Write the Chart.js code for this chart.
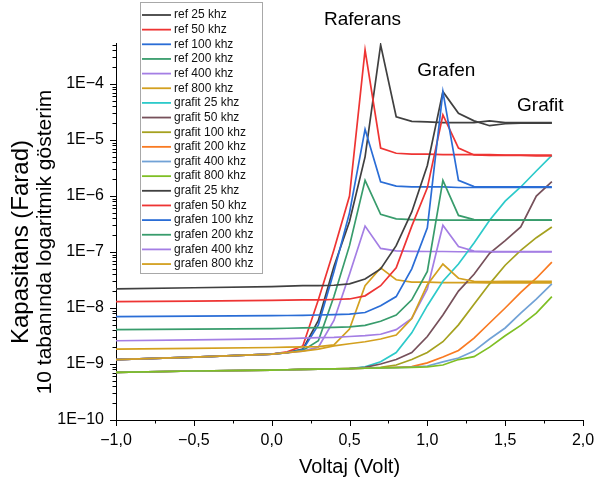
<!DOCTYPE html>
<html><head><meta charset="utf-8">
<script src="https://cdn.jsdelivr.net/npm/chart.js@4.4.1/dist/chart.umd.min.js"></script>
<style>html,body{margin:0;padding:0;background:#fff;}#wrap{width:596px;height:485px;}</style>
</head><body><div id="wrap"><canvas id="c" width="596" height="485"></canvas></div>
<script>
// ---------- DATA ----------
const voltages = [-1.0, -0.5, 0.0, 0.1, 0.2, 0.3, 0.4, 0.5, 0.6, 0.7, 0.8, 0.9, 1.0, 1.1, 1.2, 1.3, 1.4, 1.5, 1.6, 1.7, 1.8];

const ref25  = [1.2e-9, 1.33e-9, 1.5e-9, 1.6e-9, 1.85e-9, 6e-9, 5.5e-8, 3.5e-7, 5e-6, 5.0e-4, 2.6e-5, 2.15e-5, 2.1e-5, 2.05e-5, 2.05e-5, 2.05e-5, 2.2e-5, 2.05e-5, 2.05e-5, 2.05e-5, 2.05e-5];
const ref50  = [1.2e-9, 1.33e-9, 1.5e-9, 1.65e-9, 2.1e-9, 1.4e-8, 1.1e-7, 1.0e-6, 4.05e-4, 7.2e-6, 5.8e-6, 5.6e-6, 5.6e-6, 5.5e-6, 5.5e-6, 5.5e-6, 5.5e-6, 5.4e-6, 5.4e-6, 5.4e-6, 5.4e-6];
const ref100 = [1.2e-9, 1.33e-9, 1.5e-9, 1.6e-9, 1.8e-9, 5e-9, 4.5e-8, 5e-7, 1.55e-5, 1.8e-6, 1.5e-6, 1.45e-6, 1.45e-6, 1.45e-6, 1.42e-6, 1.42e-6, 1.42e-6, 1.42e-6, 1.42e-6, 1.42e-6, 1.42e-6];
const ref200 = [1.2e-9, 1.33e-9, 1.5e-9, 1.6e-9, 1.75e-9, 2.6e-9, 1.6e-8, 1.3e-7, 1.9e-6, 4.7e-7, 3.9e-7, 3.8e-7, 3.75e-7, 3.7e-7, 3.7e-7, 3.7e-7, 3.7e-7, 3.7e-7, 3.7e-7, 3.7e-7, 3.7e-7];
const ref400 = [1.2e-9, 1.33e-9, 1.5e-9, 1.6e-9, 1.7e-9, 2.0e-9, 6e-9, 4e-8, 2.9e-7, 1.16e-7, 1.05e-7, 1.03e-7, 1.02e-7, 1.02e-7, 1.01e-7, 1.01e-7, 1.0e-7, 1.0e-7, 1.0e-7, 1.0e-7, 1.0e-7];
const ref800 = [1.85e-9, 1.9e-9, 1.97e-9, 2.0e-9, 2.02e-9, 2.05e-9, 2.2e-9, 4.2e-9, 2.5e-8, 5.2e-8, 3.2e-8, 2.9e-8, 2.9e-8, 2.85e-8, 2.85e-8, 2.85e-8, 2.8e-8, 2.8e-8, 2.8e-8, 2.8e-8, 2.8e-8];

const grafit25  = [7.1e-10, 7.5e-10, 7.8e-10, 7.9e-10, 8.0e-10, 8.1e-10, 8.2e-10, 8.3e-10, 8.9e-10, 1.1e-9, 1.6e-9, 3.6e-9, 1.1e-8, 3.0e-8, 6.1e-8, 1.45e-7, 3.7e-7, 8.1e-7, 1.45e-6, 2.8e-6, 5.3e-6];
const grafit50  = [7.1e-10, 7.5e-10, 7.8e-10, 7.9e-10, 8.0e-10, 8.1e-10, 8.2e-10, 8.3e-10, 8.7e-10, 1.0e-9, 1.2e-9, 1.6e-9, 3.1e-9, 7.5e-9, 2.0e-8, 4.0e-8, 9.5e-8, 1.6e-7, 2.8e-7, 1.0e-6, 1.8e-6];
const grafit100 = [7.1e-10, 7.5e-10, 7.8e-10, 7.9e-10, 8.0e-10, 8.1e-10, 8.2e-10, 8.3e-10, 8.4e-10, 8.7e-10, 9.6e-10, 1.2e-9, 1.6e-9, 2.5e-9, 5e-9, 1.17e-8, 2.7e-8, 5.8e-8, 1.07e-7, 1.8e-7, 2.8e-7];
const grafit200 = [7.1e-10, 7.5e-10, 7.8e-10, 7.9e-10, 8.0e-10, 8.1e-10, 8.2e-10, 8.3e-10, 8.4e-10, 8.5e-10, 8.7e-10, 9.0e-10, 1.05e-9, 1.33e-9, 1.74e-9, 2.9e-9, 5.4e-9, 1.0e-8, 1.9e-8, 3.4e-8, 6.6e-8];
const grafit400 = [7.1e-10, 7.5e-10, 7.8e-10, 7.9e-10, 8.0e-10, 8.1e-10, 8.2e-10, 8.3e-10, 8.4e-10, 8.5e-10, 8.6e-10, 8.8e-10, 9.2e-10, 1.09e-9, 1.28e-9, 1.7e-9, 2.8e-9, 4.4e-9, 8.1e-9, 1.44e-8, 2.7e-8];
const grafit800 = [7.1e-10, 7.5e-10, 7.8e-10, 7.9e-10, 8.0e-10, 8.1e-10, 8.2e-10, 8.3e-10, 8.4e-10, 8.5e-10, 8.6e-10, 8.7e-10, 8.9e-10, 9.6e-10, 1.2e-9, 1.35e-9, 2.0e-9, 3.2e-9, 4.9e-9, 8.1e-9, 1.6e-8];

const grafen25  = [2.2e-8, 2.3e-8, 2.4e-8, 2.45e-8, 2.5e-8, 2.5e-8, 2.55e-8, 2.7e-8, 3.3e-8, 5e-8, 1.3e-7, 5.2e-7, 3.5e-6, 7.3e-5, 3.0e-5, 2.2e-5, 1.8e-5, 1.95e-5, 2.0e-5, 2.0e-5, 2.0e-5];
const grafen50  = [1.3e-8, 1.33e-8, 1.37e-8, 1.38e-8, 1.4e-8, 1.4e-8, 1.42e-8, 1.45e-8, 1.65e-8, 2.5e-8, 5.2e-8, 2.9e-7, 1.4e-6, 2.8e-5, 7.2e-6, 5.4e-6, 5.3e-6, 5.3e-6, 5.3e-6, 5.2e-6, 5.2e-6];
const grafen100 = [7e-9, 7.15e-9, 7.3e-9, 7.35e-9, 7.4e-9, 7.5e-9, 7.6e-9, 7.8e-9, 8.3e-9, 1.1e-8, 1.6e-8, 5e-8, 2.7e-7, 7.3e-5, 1.9e-6, 1.47e-6, 1.45e-6, 1.45e-6, 1.45e-6, 1.45e-6, 1.45e-6];
const grafen200 = [4.1e-9, 4.2e-9, 4.3e-9, 4.35e-9, 4.4e-9, 4.45e-9, 4.5e-9, 4.6e-9, 4.9e-9, 5.8e-9, 7.5e-9, 1.4e-8, 4.5e-8, 1.9e-6, 4.5e-7, 3.8e-7, 3.75e-7, 3.7e-7, 3.7e-7, 3.7e-7, 3.7e-7];
const grafen400 = [2.6e-9, 2.7e-9, 2.8e-9, 2.85e-9, 2.9e-9, 2.95e-9, 3.0e-9, 3.1e-9, 3.2e-9, 3.4e-9, 4.1e-9, 6.5e-9, 2.2e-8, 3.0e-7, 1.25e-7, 1.04e-7, 1.02e-7, 1.02e-7, 1.02e-7, 1.02e-7, 1.02e-7];
const grafen800 = [1.2e-9, 1.33e-9, 1.5e-9, 1.6e-9, 1.7e-9, 1.85e-9, 2.1e-9, 2.3e-9, 2.5e-9, 2.8e-9, 3.3e-9, 6.5e-9, 2.6e-8, 6.1e-8, 3.4e-8, 3.0e-8, 2.95e-8, 3.0e-8, 3.0e-8, 3.0e-8, 3.0e-8];

const seriesLabels = ['ref 25 khz','ref 50 khz','ref 100 khz','ref 200 khz','ref 400 khz','ref 800 khz',
  'grafit 25 khz','grafit 50 khz','grafit 100 khz','grafit 200 khz','grafit 400 khz','grafit 800 khz',
  'grafit 25 khz','grafen 50 khz','grafen 100 khz','grafen 200 khz','grafen 400 khz','grafen 800 khz'];
const seriesValues = [ref25, ref50, ref100, ref200, ref400, ref800,
  grafit25, grafit50, grafit100, grafit200, grafit400, grafit800,
  grafen25, grafen50, grafen100, grafen200, grafen400, grafen800];

const xTickStep = 0.25;
const xMin = -1.0, xMax = 2.0;
const yMin = 1e-10, yMax = 5.4e-4;
const yDecadeExponents = [-10, -9, -8, -7, -6, -5, -4];

const annotationTexts = ['Raferans', 'Grafen', 'Grafit'];
const annotationX = [0.5835, 1.1218, 1.7257];
const annotationY = [1.11e-3, 1.39e-4, 3.33e-5];

// ---------- STYLE ----------
const seriesColors = ['#404040','#ee3433','#2a6dd6','#389c6c','#a47ee4','#d3a01f',
  '#2ccaca','#76505a','#a5a11f','#f97a22','#71a2d6','#7fbf24',
  '#404040','#ee3433','#2a6dd6','#389c6c','#a47ee4','#d3a01f'];
const FONT = '"Liberation Sans", Arial, sans-serif';
Chart.defaults.font.family = FONT;
Chart.defaults.color = '#000';

const isMajorX = v => Math.abs(v * 2 - Math.round(v * 2)) < 1e-6;

const tickMarks = {
  id: 'tickMarks',
  afterDraw(chart) {
    const {ctx, chartArea: a} = chart;
    const xs = chart.scales.x, ys = chart.scales.y;
    ctx.save();
    ctx.strokeStyle = '#000'; ctx.lineWidth = 1;
    ctx.beginPath();
    xs.ticks.forEach(t => {
      const px = Math.round(xs.getPixelForValue(t.value)) + 0.5;
      ctx.moveTo(px, a.bottom); ctx.lineTo(px, a.bottom + (isMajorX(t.value) ? 6 : 3.5));
    });
    ys.ticks.forEach(t => {
      const py = Math.round(ys.getPixelForValue(t.value)) + 0.5;
      ctx.moveTo(a.left, py); ctx.lineTo(a.left - (t.major ? 6 : 3.5), py);
    });
    ctx.stroke();
    ctx.restore();
  }
};

const yTitle = {
  id: 'yTitle',
  afterDraw(chart) {
    const ctx = chart.ctx;
    ctx.save();
    ctx.fillStyle = '#000';
    ctx.textAlign = 'center'; ctx.textBaseline = 'middle';
    [['Kapasitans (Farad)', 21, 24], ['10 tabanında logaritmik gösterim', 45, 21]].forEach(([t, x, s]) => {
      ctx.font = s + 'px ' + FONT;
      ctx.save(); ctx.translate(x, 242); ctx.rotate(-Math.PI / 2); ctx.fillText(t, 0, 0); ctx.restore();
    });
    ctx.restore();
  }
};

const legendBox = {
  id: 'legendBox',
  afterDraw(chart) {
    const ctx = chart.ctx;
    const lx = 140, ly = 2, lw = 122, lh = 271, row = 14.65, first = 15;
    ctx.save();
    ctx.fillStyle = '#fff'; ctx.fillRect(lx, ly, lw, lh);
    ctx.strokeStyle = '#a8a8a8'; ctx.lineWidth = 1; ctx.strokeRect(lx + 0.5, ly + 0.5, lw, lh);
    ctx.font = '12px ' + FONT; ctx.textBaseline = 'middle'; ctx.textAlign = 'left';
    chart.data.datasets.forEach((ds, i) => {
      const y = first + row * i;
      ctx.strokeStyle = ds.borderColor; ctx.lineWidth = 1.8;
      ctx.beginPath(); ctx.moveTo(142, y); ctx.lineTo(171, y); ctx.stroke();
      ctx.fillStyle = '#111'; ctx.fillText(ds.label, 174, y);
    });
    ctx.restore();
  }
};

const annotations = {
  id: 'annotations',
  afterDraw(chart) {
    const ctx = chart.ctx, xs = chart.scales.x, ys = chart.scales.y;
    ctx.save();
    ctx.fillStyle = '#000'; ctx.font = '19px ' + FONT;
    ctx.textAlign = 'center'; ctx.textBaseline = 'alphabetic';
    annotationTexts.forEach((t, i) => {
      ctx.fillText(t, xs.getPixelForValue(annotationX[i]), ys.getPixelForValue(annotationY[i]));
    });
    ctx.restore();
  }
};

const datasets = seriesValues.map((vals, i) => ({
  label: seriesLabels[i],
  data: voltages.map((v, k) => ({x: v, y: vals[k]})),
  borderColor: seriesColors[i],
  backgroundColor: seriesColors[i],
  borderWidth: 1.7,
  pointRadius: 0,
  tension: 0,
  fill: false,
  order: -i
}));

new Chart(document.getElementById('c'), {
  type: 'line',
  data: {datasets},
  options: {
    responsive: false,
    animation: false,
    events: [],
    layout: {padding: {top: 43, right: 13, bottom: 0, left: 0}},
    plugins: {legend: {display: false}, tooltip: {enabled: false}, title: {display: false}},
    scales: {
      x: {
        type: 'linear', min: xMin, max: xMax,
        grid: {display: false, drawTicks: false},
        border: {display: true, color: '#000', width: 1},
        ticks: {
          stepSize: xTickStep, autoSkip: false, maxRotation: 0, padding: 11,
          font: {size: 16}, color: '#000',
          callback: v => isMajorX(v) ? ((v < 0 ? '\u2212' : '') + Math.abs(v).toFixed(1).replace('.', ',')) : ''
        },
        title: {display: true, text: 'Voltaj (Volt)', font: {size: 20}, color: '#000', padding: {top: 0, bottom: 6}},
        afterFit: s => { s.height = 65; s.paddingLeft = 0; s.paddingRight = 0; }
      },
      y: {
        type: 'logarithmic', min: yMin, max: yMax,
        grid: {display: false, drawTicks: false},
        border: {display: true, color: '#000', width: 1},
        afterBuildTicks: s => {
          const t = [];
          yDecadeExponents.forEach(e => {
            for (let m = 1; m <= 9; m++) {
              const v = m * Math.pow(10, e);
              if (v <= yMax * 1.0001) t.push({value: v, major: m === 1});
            }
          });
          s.ticks = t;
        },
        ticks: {
          autoSkip: false, padding: 12, font: {size: 16}, color: '#000',
          callback: (v, i, ticks) => ticks[i] && ticks[i].major ? '1E\u2212' + (-Math.round(Math.log10(v))) : ''
        },
        afterFit: s => { s.width = 116; s.paddingTop = 0; s.paddingBottom = 0; }
      }
    }
  },
  plugins: [tickMarks, yTitle, legendBox, annotations]
});
</script>
</body></html>
